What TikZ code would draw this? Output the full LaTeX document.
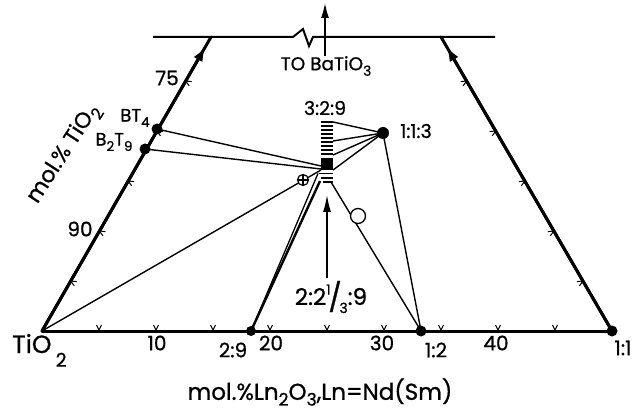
\documentclass[tikz,border=0pt]{standalone}
\usepackage{fontspec}
\usepackage{graphicx}
\setmainfont{Poppins}[FakeBold=0.8]
\usetikzlibrary{arrows.meta,calc}
\newcommand\fsz[1]{\fontsize{#1}{#1}\selectfont}
\newcommand\lo[2][0.3em]{\raisebox{-#1}{\scalebox{0.75}{#2}}}
\begin{document}
\begin{tikzpicture}[x=1pt,y=-1pt,
  edge/.style={line width=3pt, line cap=round},
  thinl/.style={line width=1.4pt},
  dot/.style={circle, fill=black, inner sep=0pt, minimum size=10pt},
  lab/.style={inner sep=0pt, font=\fsz{20}},
  tk/.style={line width=1pt}]
\useasboundingbox (0,0) rectangle (636,411);
% frame points
\coordinate (Ti) at (42,331);
\coordinate (LT) at (211,37);
\coordinate (RB) at (612,331);
\coordinate (RT) at (441,37);
\coordinate (TL) at (153,37);
\coordinate (TR) at (495,37);
% top line with break
\draw[line width=2pt] (TL) -- (293,37) -- (303,29) -- (309,46) -- (313,37) -- (TR);
\coordinate (ua) at (325,56);
\coordinate (ub) at (325,3);
\draw[line width=1.6pt, -{Latex[length=15pt,width=8pt]}] (ua) -- (ub);
% edges
\draw[edge] (Ti) -- (LT);
\draw[edge] (RB) -- (RT);
\draw[edge] (Ti) -- (RB);
\draw[line width=3pt, -{Latex[length=15pt,width=10pt]}] (Ti) -- ($(Ti)!0.968!(LT)$);
\draw[line width=3pt, -{Latex[length=15pt,width=10pt]}] (RB) -- ($(RB)!0.968!(RT)$);
% ticks
\foreach \p in {5,10,...,45} {
  \pgfmathsetmacro\xx{42+11.4*\p}
  \draw[tk] (\xx-2.5,325) -- (\xx,330) -- (\xx+2.5,325);
}
\foreach \b in {5,10,15,20,25} {
  \pgfmathsetmacro\yy{331-10*\b}
  \pgfmathsetmacro\xl{42+0.5748*10*\b}
  \pgfmathsetmacro\xr{612-0.5816*10*\b}
  \draw[tk] (\xl+6.0,\yy+0.6) -- (\xl,\yy) -- (\xl+3.5,\yy+4.9);
  \draw[tk] (\xr-6.0,\yy+0.6) -- (\xr,\yy) -- (\xr-3.5,\yy+4.9);
}
% points
\node[dot, minimum size=11pt] (bt4) at (157,129) {};
\node[dot, minimum size=11pt] (b2t9) at (145,149) {};
\node[dot, minimum size=12pt] (c113) at (383,133) {};
\node[dot] (c29) at (251,331) {};
\node[dot, minimum size=11pt] (c12) at (421,331) {};
\node[dot, minimum size=11pt] (c11) at (612,331) {};
% solid-solution column
\foreach \y in {122,126,...,154} \draw[line width=1.5pt] (321,\y) -- (333,\y);
\node[fill=black, minimum size=12pt, inner sep=0pt] (sq) at (327,164) {};
\draw[line width=1.3pt] (319,173.5) -- (333,173.5);
\draw[line width=1.3pt] (321,178) -- (333,178);
\draw[line width=1.3pt] (323,182) -- (333,182);
\coordinate (k1) at (333,122);
\coordinate (k2) at (333,141);
\coordinate (k3) at (333,155);
\coordinate (k4) at (333,170);
\coordinate (s1) at (321,166);
\coordinate (s2) at (321,169);
\coordinate (s3) at (321,170);
\coordinate (bot) at (320,181);
\coordinate (bot2) at (318,173.5);
\coordinate (br) at (331,182);
% tie lines
\draw[thinl] (bt4.center) -- (s1);
\draw[thinl] (b2t9.center) -- (s2);
\draw[thinl] (Ti) -- (s3);
\foreach \k in {k1,k2,k3,k4} \draw[thinl] (c113.center) -- (\k);
\draw[thinl] (c113.center) -- (c12.center);
\draw[thinl] (br) -- (c12.center);
\draw[line width=2.4pt] (c29.center) -- (bot);
\draw[line width=1.3pt] (c29.center) -- (bot2);
% markers
\node[circle, draw, fill=white, line width=1.2pt, minimum size=11pt, inner sep=0pt] (oplus) at (303,180) {};
\draw[line width=1.2pt] (oplus.north) -- (oplus.south);
\draw[line width=1.2pt] (oplus.west) -- (oplus.east);
\node[circle, draw, fill=white, line width=1.3pt, minimum size=15pt, inner sep=0pt] (ocirc) at (358,216) {};
% arrow to 2:2 1/3:9
\coordinate (ab) at (327,278);
\coordinate (at) at (327,195);
\draw[line width=1.4pt, -{Latex[length=17pt,width=8pt]}] (ab) -- (at);
% labels
\node[lab] (l75) at (167,78) {75};
\node[lab] (l90) at (80,229) {90};
\node[lab, font=\fsz{18}] (lbt4) at (135,118) {BT\lo{4}};
\node[lab, font=\fsz{18}] (lb2t9) at (114,142) {B\lo{2}T\lo{9}};
\node[lab, font=\fsz{22}, rotate=57] (lmol) at (64,154) {mol.\% TiO\lo{2}};
\node[lab, font=\fsz{25}, anchor=base west] (lti) at (12,353) {TiO\,\raisebox{-0.55em}{\fsz{19}2}};
\node[lab] (l10) at (157,343) {10};
\node[lab] (l29) at (233,350) {2:9};
\node[lab] (l20) at (271,343) {20};
\node[lab] (l30) at (382,343) {30};
\node[lab] (l12) at (436,350) {1:2};
\node[lab] (l40) at (496,343) {40};
\node[lab] (l11) at (623,348) {1:1};
\node[lab, font=\fsz{23}] (lx) at (320,392) {mol.\%Ln\lo[0.25em]{2}O\lo[0.25em]{3},Ln=Nd(Sm)};
\node[lab, font=\fsz{18.5}] (lto) at (326,66) {TO BaTiO\lo{3}};
\node[lab, font=\fsz{19}] (l329) at (325,108) {3:2:9};
\node[lab, font=\fsz{19}] (l113) at (416,131) {1:1:3};
\node[lab, font=\fsz{23}] (l22) at (331,297) {2:2\raisebox{0.45em}{\fsz{14}1}\kern-0.1em\raisebox{-0.1em}{\fsz{28}/}\kern-0.1em\raisebox{-0.35em}{\fsz{14}3}:9};
\end{tikzpicture}
\end{document}
